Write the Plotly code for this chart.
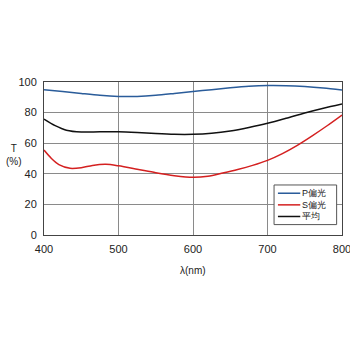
import plotly.graph_objects as go

# Wavelength (nm) and transmittance (%) for each polarization
wl_p = [400, 425, 450, 475, 500, 525, 550, 575, 600, 625, 650, 675, 700, 725, 750, 775, 800]
t_p = [95.0, 93.8, 92.5, 91.3, 90.6, 90.6, 91.3, 92.5, 93.8, 95.0, 96.2, 97.2, 97.7, 97.6, 97.0, 96.0, 94.7]

wl_s = [400, 410, 420, 435, 450, 465, 483, 500, 525, 550, 575, 600, 620, 640, 660, 680, 700, 720, 740, 760, 780, 800]
t_s = [55.5, 50.0, 46.0, 43.6, 44.0, 45.5, 46.2, 45.2, 43.0, 40.7, 38.8, 37.7, 38.4, 40.5, 42.8, 45.5, 48.8, 53.2, 58.6, 64.8, 71.4, 78.4]

wl_avg = [400, 415, 430, 450, 475, 500, 525, 550, 575, 600, 625, 650, 675, 700, 725, 750, 775, 800]
t_avg = [75.8, 71.5, 68.5, 67.3, 67.5, 67.5, 67.0, 66.3, 65.8, 65.8, 66.5, 68.0, 70.3, 73.0, 76.3, 79.8, 82.9, 85.7]

series_names = ["P偏光", "S偏光", "平均"]
series_colors = ["#2a5c9a", "#d42020", "#111111"]
x_ticks = [400, 500, 600, 700, 800]
y_ticks = [0, 20, 40, 60, 80, 100]

font_family = "Liberation Sans, Arial, sans-serif"
text_color = "#222222"

fig = go.Figure()
for wl, t, name, color in zip([wl_p, wl_s, wl_avg], [t_p, t_s, t_avg], series_names, series_colors):
    fig.add_trace(go.Scatter(x=wl, y=t, mode="lines", name=name, showlegend=False,
                             line=dict(color=color, width=1.5, shape="spline", smoothing=0.8)))

axis_common = dict(
    showline=True, linecolor="#444444", linewidth=1, mirror=True,
    showgrid=True, gridcolor="#8a8a8a", gridwidth=1,
    ticks="", zeroline=False, ticklabeloverflow="allow", automargin=False,
    tickfont=dict(family=font_family, size=11, color=text_color),
)

fig.update_xaxes(range=[400, 800], tickvals=x_ticks, ticklabelstandoff=4, **axis_common)
fig.update_yaxes(range=[0, 100], tickvals=y_ticks, ticklabelstandoff=4, **axis_common)

# Axis titles
fig.add_annotation(text="λ(nm)", xref="paper", yref="paper", x=0.5, y=-0.23,
                   showarrow=False, font=dict(family=font_family, size=10, color=text_color),
                   xanchor="center", yanchor="middle")
fig.add_annotation(text="T<br>(%)", xref="paper", yref="paper", x=-0.1, y=0.52,
                   showarrow=False, font=dict(family=font_family, size=10, color=text_color),
                   xanchor="center", yanchor="middle", align="center")

# Compact boxed legend in the lower right of the plot area
legend_box = dict(x0=0.772, x1=0.982, y0=0.068, y1=0.327)
row_y = [0.273, 0.197, 0.121]
line_x0, line_x1, text_x = 0.785, 0.860, 0.862
fig.add_shape(type="rect", xref="paper", yref="paper", **legend_box,
              line=dict(color="#555555", width=1), fillcolor="white", layer="above")
for y, color in zip(row_y, series_colors):
    fig.add_shape(type="line", xref="paper", yref="paper", x0=line_x0, x1=line_x1, y0=y, y1=y,
                  line=dict(color=color, width=1.5), layer="above")
fig.add_annotation(text="<br>".join(series_names), xref="paper", yref="paper",
                   x=text_x, y=row_y[1], showarrow=False, xanchor="left", yanchor="middle",
                   align="left", borderpad=0,
                   font=dict(family=font_family, size=9, color=text_color))

fig.update_layout(
    width=350, height=350,
    margin=dict(l=44, r=8, t=82, b=115),
    paper_bgcolor="white", plot_bgcolor="white",
    showlegend=False,
)

fig.write_html("out.html")
